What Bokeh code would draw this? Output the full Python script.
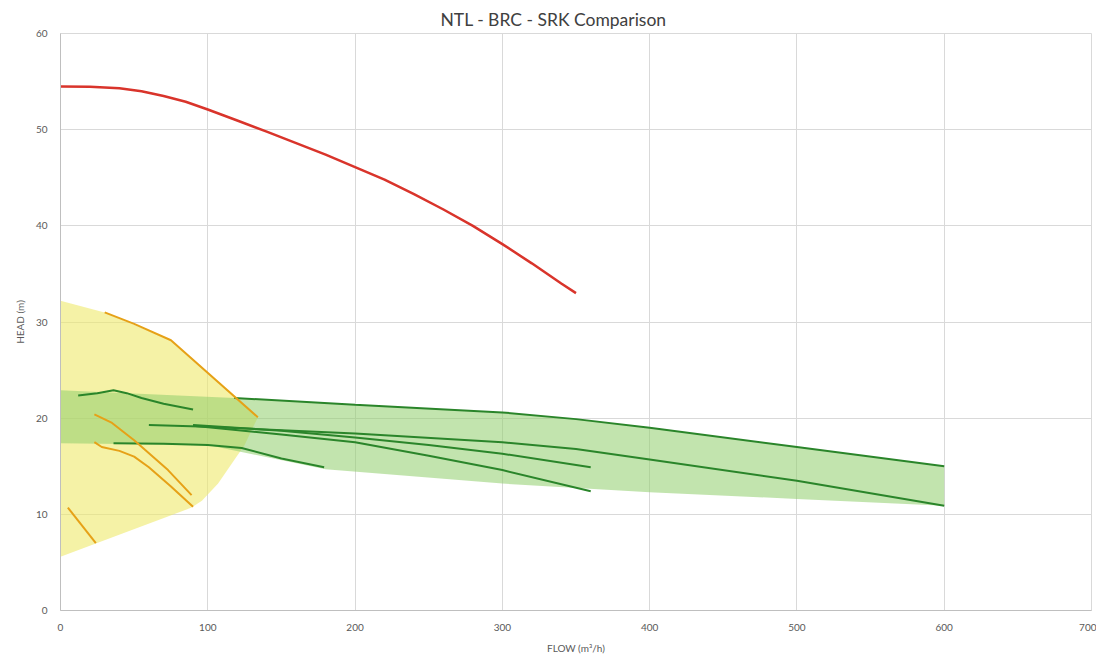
from bokeh.plotting import figure
from bokeh.models import Range1d, FixedTicker
from bokeh.embed import file_html
from bokeh.resources import INLINE

# ---- data ----
x_ticks = [0, 100, 200, 300, 400, 500, 600, 700]
y_ticks = [0, 10, 20, 30, 40, 50, 60]

# NTL curve (red)
ntl_flow = [0, 20, 40, 55, 70, 85, 100, 120, 140, 160, 180, 200, 220, 240, 260, 280, 300, 320, 340, 350]
ntl_head = [54.5, 54.45, 54.3, 54.0, 53.5, 52.9, 52.1, 50.95, 49.8, 48.6, 47.4, 46.1,
            44.8, 43.3, 41.7, 40.0, 38.1, 36.1, 34.0, 33.0]

# BRC envelope (yellow area)
brc_area_flow = [0, 30, 75, 134, 125, 107, 96, 89, 0]
brc_area_head = [32.2, 31.0, 28.1, 20.1, 17.2, 13.2, 11.4, 10.7, 5.6]

# BRC curves (orange)
brc1_flow = [30, 50, 75, 134]
brc1_head = [31.0, 29.8, 28.1, 20.1]
brc2_flow = [23, 35, 50, 73, 89]
brc2_head = [20.4, 19.5, 17.7, 14.6, 12.0]
brc3_flow = [23, 28, 40, 50, 60, 75, 90]
brc3_head = [17.5, 17.0, 16.6, 16.0, 14.9, 12.9, 10.8]
brc4_flow = [5, 24]
brc4_head = [10.7, 7.0]

# SRK envelope (green area)
srk_area_flow = [0, 118, 200, 300, 350, 400, 500, 600, 600, 500, 400, 300, 180, 100, 0]
srk_area_head = [22.9, 22.1, 21.4, 20.6, 19.9, 19.0, 17.0, 15.0, 10.9, 11.6, 12.3, 13.2, 14.7, 17.2, 17.4]

# SRK curves (dark green)
srk1_flow = [12, 25, 36, 45, 55, 70, 90]
srk1_head = [22.35, 22.6, 22.9, 22.6, 22.1, 21.5, 20.9]
srk2_flow = [118, 200, 300, 350, 400, 500, 600]
srk2_head = [22.1, 21.4, 20.6, 19.9, 19.0, 17.0, 15.0]
srk3_flow = [60, 100, 200, 300, 350, 400, 500, 600]
srk3_head = [19.3, 19.1, 18.4, 17.5, 16.8, 15.7, 13.5, 10.9]
srk4_flow = [90, 150, 200, 250, 300, 360]
srk4_head = [19.3, 18.7, 18.0, 17.2, 16.3, 14.9]
srk5_flow = [90, 150, 200, 250, 300, 360]
srk5_head = [19.2, 18.3, 17.5, 16.1, 14.6, 12.4]
srk6_flow = [36, 70, 100, 123, 150, 179]
srk6_head = [17.4, 17.35, 17.2, 16.9, 15.8, 14.9]

FONT = "Lato"
TXT = "#595959"

p = figure(width=1096, height=662, output_backend="svg", toolbar_location=None,
           x_range=Range1d(0, 700), y_range=Range1d(0, 60),
           min_border_left=60, min_border_right=5, min_border_top=33, min_border_bottom=52,
           background_fill_color="white", border_fill_color="white")

p.title.text = "NTL - BRC - SRK Comparison"
p.title.align = "left"
p.title.offset = 380
p.title.vertical_align = "top"
p.title.text_font = FONT
p.title.text_font_size = "17.5px"
p.title.text_font_style = "normal"
p.title.text_color = "#404040"
p.title.standoff = 4

p.outline_line_color = "#d9d9d9"

for ax in (p.xaxis[0], p.yaxis[0]):
    ax.axis_line_color = "#bfbfbf"
    ax.major_tick_line_color = None
    ax.minor_tick_line_color = None
    ax.major_tick_out = 0
    ax.major_tick_in = 0
    ax.minor_tick_out = 0
    ax.minor_tick_in = 0
    ax.major_label_text_font = FONT
    ax.major_label_text_font_size = "10px"
    ax.major_label_text_color = TXT
    ax.axis_label_text_font = FONT
    ax.axis_label_text_font_size = "10px"
    ax.axis_label_text_font_style = "normal"
    ax.axis_label_text_color = TXT

p.xaxis.ticker = FixedTicker(ticks=x_ticks)
p.yaxis.ticker = FixedTicker(ticks=y_ticks)
p.xaxis.axis_label = "FLOW (m³/h)"
p.yaxis.axis_label = "HEAD (m)"
p.xaxis.major_label_standoff = 13
p.yaxis.major_label_standoff = 13
p.xaxis.axis_label_standoff = 8
p.yaxis.axis_label_standoff = 7

p.xgrid.grid_line_color = "#d9d9d9"
p.ygrid.grid_line_color = "#d9d9d9"

# areas
p.patch(brc_area_flow, brc_area_head, fill_color="#eeea6a", fill_alpha=0.6, line_color=None)
p.patch(srk_area_flow, srk_area_head, fill_color="#8fce6b", fill_alpha=0.55, line_color=None)

GREEN = "#2a852a"
for fx, hy in [(srk1_flow, srk1_head), (srk2_flow, srk2_head), (srk3_flow, srk3_head),
               (srk4_flow, srk4_head), (srk5_flow, srk5_head), (srk6_flow, srk6_head)]:
    p.line(fx, hy, line_color=GREEN, line_width=2)

ORANGE = "#e6a117"
for fx, hy in [(brc1_flow, brc1_head), (brc2_flow, brc2_head),
               (brc3_flow, brc3_head), (brc4_flow, brc4_head)]:
    p.line(fx, hy, line_color=ORANGE, line_width=2)

p.line(ntl_flow, ntl_head, line_color="#d9342b", line_width=2.5)

open("out.html", "w").write(file_html(p, INLINE))
